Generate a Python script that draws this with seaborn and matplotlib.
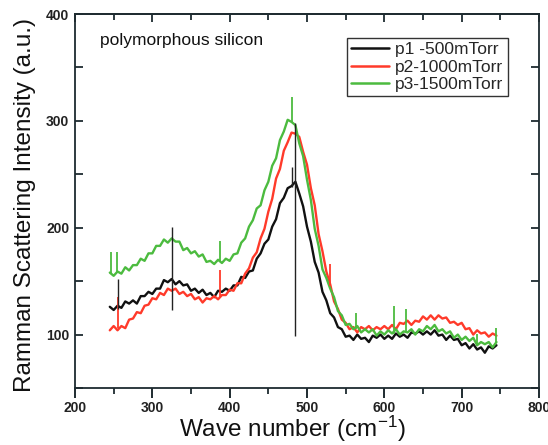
import pandas as pd
import matplotlib.pyplot as plt
import seaborn as sns
from matplotlib.ticker import MultipleLocator

# Estilo
sns.set_style("ticks")
plt.rcParams['font.family'] = ['Liberation Sans', 'DejaVu Sans']
plt.rcParams['mathtext.fontset'] = 'custom'
plt.rcParams['mathtext.rm'] = 'Liberation Sans'
plt.rcParams['mathtext.default'] = 'regular'

# Dados (passo de 5 cm-1)
wavenumber = [245, 250, 255, 260, 265, 270, 275, 280, 285, 290,
              295, 300, 305, 310, 315, 320, 325, 330, 335, 340,
              345, 350, 355, 360, 365, 370, 375, 380, 385, 390,
              395, 400, 405, 410, 415, 420, 425, 430, 435, 440,
              445, 450, 455, 460, 465, 470, 475, 480, 485, 490,
              495, 500, 505, 510, 515, 520, 525, 530, 535, 540,
              545, 550, 555, 560, 565, 570, 575, 580, 585, 590,
              595, 600, 605, 610, 615, 620, 625, 630, 635, 640,
              645, 650, 655, 660, 665, 670, 675, 680, 685, 690,
              695, 700, 705, 710, 715, 720, 725, 730, 735, 740, 745]

p1_500 = [126, 123, 127, 125, 131, 129, 132, 129, 136, 136,
          140, 138, 143, 143, 151, 149, 152, 147, 150, 146,
          147, 141, 143, 139, 142, 137, 139, 135, 141, 140,
          143, 141, 146, 146, 154, 153, 159, 160, 171, 176,
          185, 189, 201, 208, 223, 228, 237, 239, 243, 232,
          220, 201, 187, 168, 158, 140, 132, 120, 116, 107,
          105, 98, 99, 95, 100, 96, 97, 93, 99, 97,
          100, 96, 99, 96, 101, 98, 100, 97, 102, 101,
          103, 100, 103, 100, 104, 99, 100, 95, 99, 95,
          96, 90, 92, 87, 91, 86, 88, 83, 89, 87, 90]

p2_1000 = [104, 108, 104, 108, 106, 114, 115, 121, 120, 127,
           128, 134, 133, 139, 137, 143, 141, 143, 138, 140,
           136, 138, 133, 135, 130, 134, 133, 136, 133, 137,
           137, 142, 141, 148, 148, 157, 162, 172, 177, 190,
           199, 215, 227, 246, 255, 272, 280, 289, 288, 285,
           271, 259, 237, 221, 194, 178, 159, 147, 131, 124,
           114, 111, 105, 107, 102, 107, 105, 108, 104, 107,
           105, 108, 105, 109, 105, 111, 110, 113, 109, 113,
           112, 117, 114, 118, 114, 118, 115, 116, 111, 112,
           109, 111, 105, 106, 100, 104, 101, 102, 98, 101, 99]

p3_1500 = [158, 155, 159, 157, 163, 160, 165, 165, 171, 169,
           176, 176, 183, 183, 189, 186, 190, 187, 187, 179,
           181, 176, 178, 173, 175, 168, 169, 166, 170, 167,
           171, 169, 175, 176, 186, 190, 201, 207, 218, 221,
           235, 243, 258, 265, 282, 290, 301, 299, 296, 279,
           267, 245, 226, 199, 183, 161, 153, 143, 135, 122,
           118, 109, 110, 105, 108, 102, 105, 102, 105, 99,
           103, 100, 104, 101, 105, 100, 103, 102, 105, 100,
           105, 103, 108, 105, 109, 103, 105, 101, 103, 97,
           100, 95, 98, 94, 97, 90, 93, 91, 93, 88, 93]

# Picos estreitos (raios cósmicos)
spike_p1_x = [255, 325, 481, 484]
spike_p1_low = [124, 123, 238, 99]
spike_p1_high = [152, 201, 257, 298]

spike_p2_x = [255, 387, 530]
spike_p2_low = [106, 135, 145]
spike_p2_high = [135, 160, 166]

spike_p3_x = [247, 254, 387, 481, 563, 612, 628, 720, 745]
spike_p3_low = [157, 158, 168, 299, 105, 101, 102, 91, 92]
spike_p3_high = [177, 177, 188, 322, 120, 127, 124, 101, 106]

labels = ["p1 -500mTorr", "p2-1000mTorr", "p3-1500mTorr"]
colors = ["#111111", "#ff3a2a", "#4cbb3f"]

frames = []
for lab, vals in zip(labels, [p1_500, p2_1000, p3_1500]):
    frames.append(pd.DataFrame({"wavenumber": wavenumber, "intensity": vals, "amostra": lab}))
df = pd.concat(frames, ignore_index=True)

fig = plt.figure(figsize=(5.48, 4.45), dpi=100)
ax = fig.add_axes([75 / 548, 1 - 388 / 445, 464 / 548, 374 / 445])

sns.lineplot(data=df, x="wavenumber", y="intensity", hue="amostra",
             palette=dict(zip(labels, colors)), estimator=None,
             linewidth=1.7, ax=ax, legend=False)

ax.vlines(spike_p2_x, spike_p2_low, spike_p2_high, color=colors[1], lw=1.3)
ax.vlines(spike_p3_x, spike_p3_low, spike_p3_high, color=colors[2], lw=1.3)
ax.vlines(spike_p1_x, spike_p1_low, spike_p1_high, color="#222222", lw=1.0)

ax.set_xlim(200, 800)
ax.set_ylim(50, 400)

# Eixos no estilo Origin
edge = "#1e2b30"
for s in ax.spines.values():
    s.set_visible(True)
    s.set_color(edge)
    s.set_linewidth(1.3)

ax.xaxis.set_major_locator(MultipleLocator(100))
ax.xaxis.set_minor_locator(MultipleLocator(50))
ax.yaxis.set_major_locator(MultipleLocator(100))
ax.yaxis.set_minor_locator(MultipleLocator(50))
ax.tick_params(axis="x", which="major", direction="out", length=7, width=1.4, colors=edge,
               bottom=True, labelsize=10, pad=2)
ax.tick_params(axis="x", which="minor", direction="out", length=4, width=1.3, colors=edge,
               bottom=True)
ax.tick_params(axis="y", which="both", direction="in", length=6, width=1.3, colors=edge,
               left=True, right=True, labelsize=10, pad=4)
for lbl in ax.get_xticklabels() + ax.get_yticklabels():
    lbl.set_fontweight("bold")
    lbl.set_color("#222222")

top = ax.secondary_xaxis("top")
top.xaxis.set_major_locator(MultipleLocator(100))
top.xaxis.set_minor_locator(MultipleLocator(50))
top.tick_params(which="major", direction="in", length=6, width=1.3, colors=edge,
                top=True, labeltop=False)
top.tick_params(which="minor", direction="in", length=4, width=1.3, colors=edge, top=True)
top.spines["top"].set_color(edge)
top.spines["top"].set_linewidth(1.3)

ax.set_xlabel("Wave number (cm$^{-1}$)", fontsize=17.5, color="#111111")
ax.set_ylabel("Ramman Scattering Intensity (a.u.)", fontsize=17.5, color="#111111")
ax.xaxis.set_label_coords(0.468, -0.07)
ax.yaxis.set_label_coords(-0.085, 0.49)

ax.text(0.054, 0.93, "polymorphous silicon", transform=ax.transAxes,
        fontsize=12.5, color="#111111", va="center")

handles = [plt.Line2D([], [], color=c, lw=1.8) for c in colors]
leg = ax.legend(handles, labels, loc="upper right", bbox_to_anchor=(0.933, 0.936),
                borderaxespad=0, fontsize=12.5, handlelength=2.2, handletextpad=0.35,
                labelspacing=0.12, borderpad=0.25, fancybox=False, framealpha=1)
leg.get_frame().set_edgecolor("#333333")
leg.get_frame().set_linewidth(1.0)

plt.savefig("out.png", dpi=100)
plt.close()
